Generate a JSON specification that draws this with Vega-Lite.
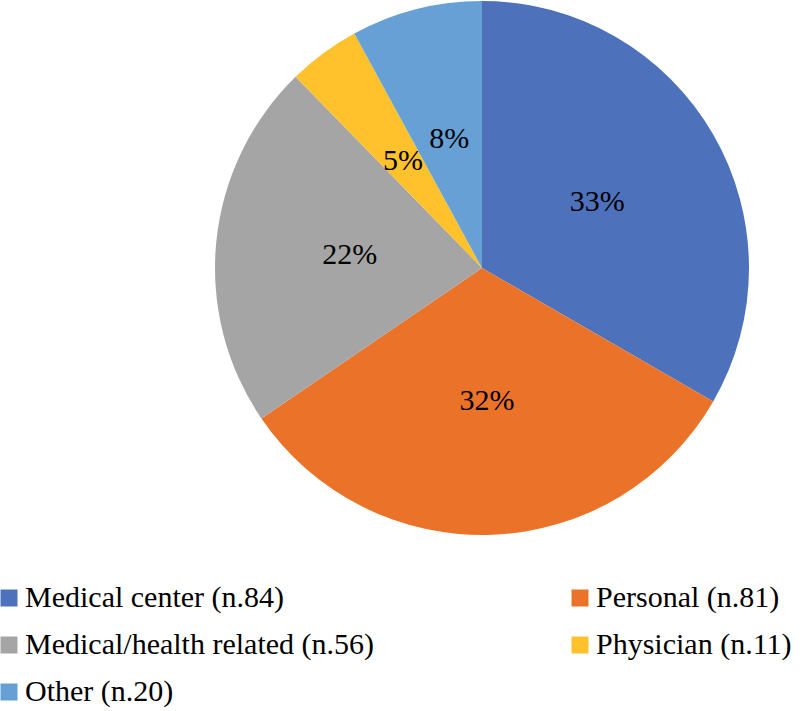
{
  "$schema": "https://vega.github.io/schema/vega-lite/v6.json",
  "width": 534,
  "height": 536,
  "autosize": {"type": "none"},
  "padding": {"left": 215, "top": 0, "right": 51, "bottom": 175},
  "background": "white",
  "config": {"view": {"stroke": null}},
  "data": {
    "values": [
      {"idx": 1, "source": "Medical center (n.84)", "n": 84, "pct": "33%"},
      {"idx": 2, "source": "Personal (n.81)", "n": 81, "pct": "32%"},
      {"idx": 3, "source": "Medical/health related (n.56)", "n": 56, "pct": "22%"},
      {"idx": 4, "source": "Physician (n.11)", "n": 11, "pct": "5%"},
      {"idx": 5, "source": "Other (n.20)", "n": 20, "pct": "8%"}
    ]
  },
  "encoding": {
    "theta": {"field": "n", "type": "quantitative", "stack": true},
    "order": {"field": "idx", "type": "quantitative", "sort": "ascending"}
  },
  "layer": [
    {
      "mark": {"type": "arc", "outerRadius": 267},
      "encoding": {
        "color": {
          "field": "source",
          "type": "nominal",
          "scale": {
            "domain": ["Medical center (n.84)", "Medical/health related (n.56)", "Other (n.20)", "Personal (n.81)", "Physician (n.11)"],
            "range": ["#4E71BB", "#A5A5A5", "#66A0D5", "#EB7329", "#FFC22C"]
          },
          "legend": {
            "title": null,
            "orient": "none",
            "legendX": -221,
            "legendY": 583,
            "padding": 0,
            "columns": 2,
            "columnPadding": 190,
            "rowPadding": 17,
            "symbolType": "square",
            "symbolSize": 289,
            "symbolStrokeWidth": 0,
            "symbolOffset": 0,
            "labelFont": "Liberation Serif, Times New Roman, serif",
            "labelFontSize": 30,
            "labelColor": "#000000",
            "labelOffset": 1,
            "labelLimit": 600
          }
        }
      }
    },
    {
      "mark": {"type": "text", "radius": 133, "font": "Liberation Serif, Times New Roman, serif", "fontSize": 30, "color": "#000000"},
      "encoding": {"text": {"field": "pct", "type": "nominal"}}
    }
  ]
}
